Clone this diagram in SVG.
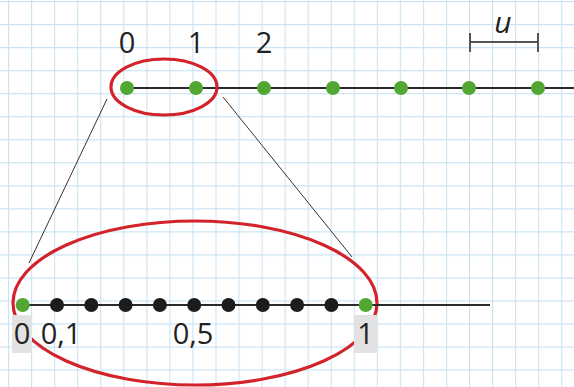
<svg xmlns="http://www.w3.org/2000/svg" width="574" height="387" viewBox="0 0 574 387">
<style>
.num{font-family:"Open Sans","Noto Sans","Liberation Sans",sans-serif;font-size:29px;fill:#222;text-anchor:middle}
.g{fill:#52a733}
.k{fill:#1c1c1c}
.axis{stroke:#2a2a2a;stroke-width:2;fill:none}
.red{stroke:#d2232a;stroke-width:3.2;fill:none}
.thin{stroke:#333;stroke-width:1;fill:none}
.box{fill:#e2e2e2}
</style>
<defs>
<pattern id="grid" patternUnits="userSpaceOnUse" x="8" y="1" width="23.05" height="23.03">
<path d="M0 0V23.03M0 0H23.05" stroke="#c9e3f4" stroke-width="2.2" fill="none"/>
</pattern>
</defs>
<rect width="574" height="387" fill="#fff"/>
<rect width="574" height="387" fill="url(#grid)"/>
<g id="connectors">
<line class="thin" x1="107" y1="99" x2="29" y2="263"/>
<line class="thin" x1="223" y1="97" x2="352" y2="257"/>
</g>
<g id="top-line">
<line class="axis" x1="127" y1="88" x2="574" y2="88"/>
<circle class="g" cx="127" cy="88" r="7"/>
<circle class="g" cx="196" cy="88" r="7"/>
<circle class="g" cx="264" cy="88" r="7"/>
<circle class="g" cx="333" cy="88" r="7"/>
<circle class="g" cx="401" cy="88" r="7"/>
<circle class="g" cx="469" cy="88" r="7"/>
<circle class="g" cx="538" cy="88" r="7"/>
<text class="num" x="127" y="53">0</text>
<text class="num" x="196" y="53">1</text>
<text class="num" x="264" y="53">2</text>
</g>
<g id="unit">
<path d="M470 42H538M470 33V52M538 33V52" stroke="#555" stroke-width="2" fill="none"/>
<text x="503" y="33" font-family="'Open Sans','Noto Sans',sans-serif" font-style="italic" font-size="30" fill="#222" text-anchor="middle">u</text>
</g>
<g id="small-ellipse">
<ellipse class="red" cx="164" cy="87" rx="53" ry="28"/>
</g>
<g id="big-ellipse">
<ellipse class="red" cx="195" cy="303" rx="182" ry="82"/>
</g>
<g id="bottom-line">
<line class="axis" x1="22.7" y1="305" x2="490" y2="305"/>
<circle class="g" cx="22.7" cy="305" r="7"/>
<circle class="k" cx="57" cy="305" r="7"/>
<circle class="k" cx="91.3" cy="305" r="7"/>
<circle class="k" cx="125.6" cy="305" r="7"/>
<circle class="k" cx="159.9" cy="305" r="7"/>
<circle class="k" cx="194.2" cy="305" r="7"/>
<circle class="k" cx="228.5" cy="305" r="7"/>
<circle class="k" cx="262.8" cy="305" r="7"/>
<circle class="k" cx="297.1" cy="305" r="7"/>
<circle class="k" cx="331.4" cy="305" r="7"/>
<circle class="g" cx="365.7" cy="305" r="7"/>
</g>
<g id="label-0">
<rect class="box" x="12" y="315" width="20" height="38"/>
<text class="num" x="22" y="344">0</text>
</g>
<g id="label-01">
<text class="num" x="61" y="344">0,1</text>
</g>
<g id="label-05">
<text class="num" x="193" y="344">0,5</text>
</g>
<g id="label-1">
<rect class="box" x="354" y="315" width="23" height="38"/>
<text class="num" x="365.5" y="344">1</text>
</g>
</svg>
